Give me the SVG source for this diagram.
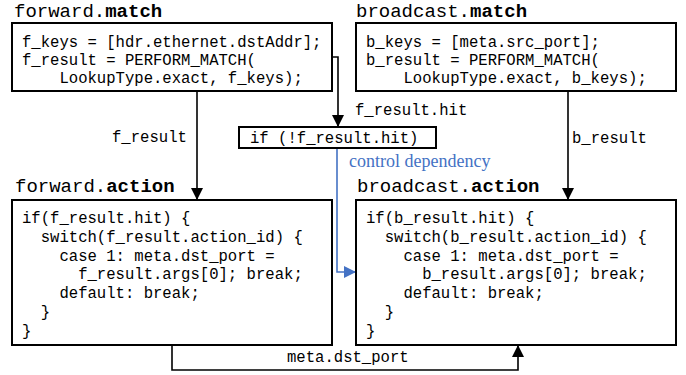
<svg xmlns="http://www.w3.org/2000/svg" width="686" height="375" viewBox="0 0 686 375">
  <defs>
    <style>
      .box { fill: #ffffff; stroke: #000000; stroke-width: 2; }
      .code { font-family: "Liberation Mono", "DejaVu Sans Mono", monospace; font-size: 15.6px; fill: #000000; white-space: pre; }
      .title { font-family: "Liberation Mono", "DejaVu Sans Mono", monospace; font-size: 19px; fill: #000000; }
      .title tspan.b { font-weight: bold; }
      .wire { fill: none; stroke: #000000; stroke-width: 1.6; }
      .ctrl { fill: none; stroke: #4472C4; stroke-width: 1.6; }
      .note { font-family: "Liberation Serif", "Times New Roman", serif; font-size: 18px; fill: #4472C4; }
    </style>
    <marker id="arrow" viewBox="0 0 12 12" refX="12" refY="6" markerWidth="12" markerHeight="12" markerUnits="userSpaceOnUse" orient="auto">
      <path d="M0,0 L12,6 L0,12 Z" fill="#000000"/>
    </marker>
    <marker id="arrow-blue" viewBox="0 0 12 12" refX="12" refY="6" markerWidth="12" markerHeight="12" markerUnits="userSpaceOnUse" orient="auto">
      <path d="M0,0 L12,6 L0,12 Z" fill="#4472C4"/>
    </marker>
  </defs>

  <rect width="686" height="375" fill="#ffffff"/>

  <!-- connectors -->
  <g id="connectors">
    <path class="wire" d="M197,91 V200" marker-end="url(#arrow)"/>
    <path class="wire" d="M332,57 H338 V127" marker-end="url(#arrow)"/>
    <path class="wire" d="M568,91 V200" marker-end="url(#arrow)"/>
    <path class="ctrl" d="M337,149 V272 H356" marker-end="url(#arrow-blue)"/>
    <path class="wire" d="M172,345 V370 H518 V345" marker-end="url(#arrow)"/>
    <text class="code" x="112" y="142">f_result</text>
    <text class="code" x="355" y="115">f_result.hit</text>
    <text class="code" x="572" y="143">b_result</text>
    <text class="note" x="349" y="167">control dependency</text>
    <text class="code" x="287" y="362">meta.dst_port</text>
  </g>

  <!-- forward.match -->
  <g id="forward-match">
    <text class="title" x="14" y="17">forward.<tspan class="b">match</tspan></text>
    <rect class="box" x="12" y="23" width="320" height="68"/>
    <text class="code" x="22" y="47">f_keys = [hdr.ethernet.dstAddr];</text>
    <text class="code" x="22" y="65">f_result = PERFORM_MATCH(</text>
    <text class="code" x="22" y="83">    LookupType.exact, f_keys);</text>
  </g>

  <!-- broadcast.match -->
  <g id="broadcast-match">
    <text class="title" x="356" y="17">broadcast.<tspan class="b">match</tspan></text>
    <rect class="box" x="356" y="23" width="320" height="68"/>
    <text class="code" x="366" y="47">b_keys = [meta.src_port];</text>
    <text class="code" x="366" y="65">b_result = PERFORM_MATCH(</text>
    <text class="code" x="366" y="83">    LookupType.exact, b_keys);</text>
  </g>

  <!-- condition -->
  <g id="condition">
    <rect class="box" x="239" y="127" width="197" height="21"/>
    <text class="code" x="250" y="143">if (!f_result.hit)</text>
  </g>

  <!-- forward.action -->
  <g id="forward-action">
    <text class="title" x="15" y="192">forward.<tspan class="b">action</tspan></text>
    <rect class="box" x="12" y="200" width="320" height="145"/>
    <text class="code" x="22" y="223">if(f_result.hit) {</text>
    <text class="code" x="22" y="242">  switch(f_result.action_id) {</text>
    <text class="code" x="22" y="261">    case 1: meta.dst_port =</text>
    <text class="code" x="22" y="279">      f_result.args[0]; break;</text>
    <text class="code" x="22" y="298">    default: break;</text>
    <text class="code" x="22" y="317">  }</text>
    <text class="code" x="22" y="336">}</text>
  </g>

  <!-- broadcast.action -->
  <g id="broadcast-action">
    <text class="title" x="357" y="192">broadcast.<tspan class="b">action</tspan></text>
    <rect class="box" x="356" y="200" width="320" height="145"/>
    <text class="code" x="366" y="223">if(b_result.hit) {</text>
    <text class="code" x="366" y="242">  switch(b_result.action_id) {</text>
    <text class="code" x="366" y="261">    case 1: meta.dst_port =</text>
    <text class="code" x="366" y="279">      b_result.args[0]; break;</text>
    <text class="code" x="366" y="298">    default: break;</text>
    <text class="code" x="366" y="317">  }</text>
    <text class="code" x="366" y="336">}</text>
  </g>
</svg>
